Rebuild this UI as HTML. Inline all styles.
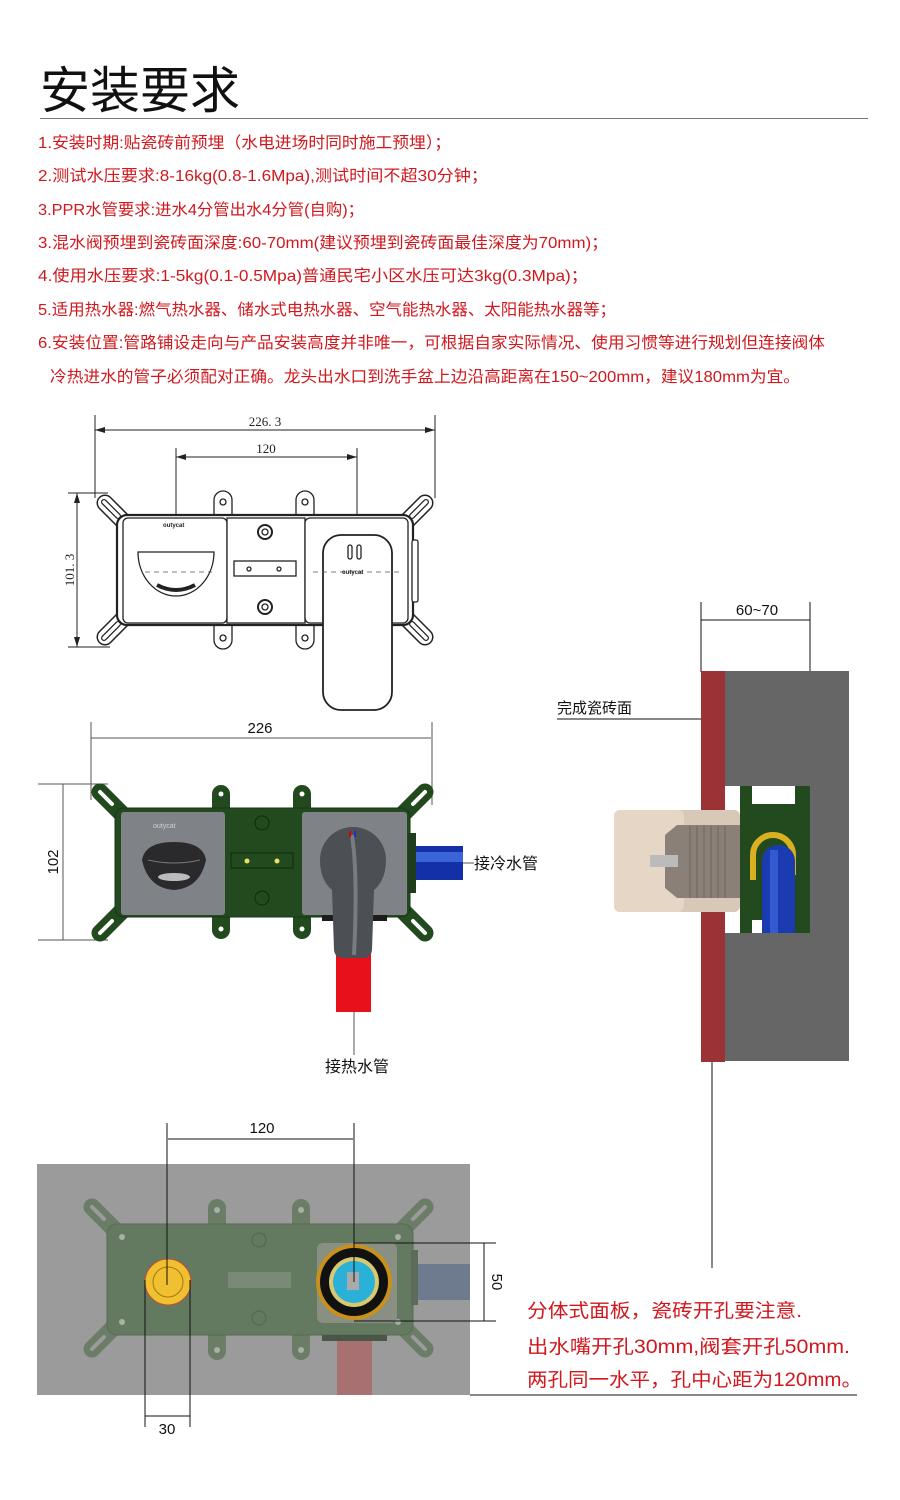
<!DOCTYPE html>
<html><head><meta charset="utf-8"><style>
html,body{margin:0;padding:0;background:#fff;}
svg{display:block;}
text{font-family:"Liberation Sans","Noto Sans CJK SC",sans-serif;}
.r{fill:#d0181e;font-size:16px;}
.s{font-family:"Liberation Serif","Noto Serif CJK SC",serif;font-size:13px;fill:#222;}
</style></head><body>
<svg width="900" height="1500" viewBox="0 0 900 1500" xmlns="http://www.w3.org/2000/svg">
<rect width="900" height="1500" fill="#fff"/>
<text x="40" y="108" font-size="50" fill="#111" textLength="200" lengthAdjust="spacingAndGlyphs">安装要求</text>
<line x1="40" y1="118.5" x2="868" y2="118.5" stroke="#777" stroke-width="1"/>
<g class="r">
<text x="38" y="148" textLength="413" lengthAdjust="spacingAndGlyphs">1.安装时期:贴瓷砖前预埋（水电进场时同时施工预埋）；</text>
<text x="38" y="181" textLength="450" lengthAdjust="spacingAndGlyphs">2.测试水压要求:8-16kg(0.8-1.6Mpa),测试时间不超30分钟；</text>
<text x="38" y="215" textLength="326" lengthAdjust="spacingAndGlyphs">3.PPR水管要求:进水4分管出水4分管(自购)；</text>
<text x="38" y="248" textLength="570" lengthAdjust="spacingAndGlyphs">3.混水阀预埋到瓷砖面深度:60-70mm(建议预埋到瓷砖面最佳深度为70mm)；</text>
<text x="38" y="281" textLength="550" lengthAdjust="spacingAndGlyphs">4.使用水压要求:1-5kg(0.1-0.5Mpa)普通民宅小区水压可达3kg(0.3Mpa)；</text>
<text x="38" y="315" textLength="578" lengthAdjust="spacingAndGlyphs">5.适用热水器:燃气热水器、储水式电热水器、空气能热水器、太阳能热水器等；</text>
<text x="38" y="348" textLength="787" lengthAdjust="spacingAndGlyphs">6.安装位置:管路铺设走向与产品安装高度并非唯一，可根据自家实际情况、使用习惯等进行规划但连接阀体</text>
<text x="50" y="382" textLength="750" lengthAdjust="spacingAndGlyphs">冷热进水的管子必须配对正确。龙头出水口到洗手盆上边沿高距离在150~200mm，建议180mm为宜。</text>
</g>

<g stroke="#222" stroke-width="1" fill="none">
<line x1="95" y1="415" x2="95" y2="498"/><line x1="435" y1="415" x2="435" y2="498"/>
<line x1="95" y1="430" x2="435" y2="430"/>
<line x1="176" y1="448" x2="176" y2="560"/><line x1="357" y1="448" x2="357" y2="615"/>
<line x1="176" y1="457" x2="357" y2="457"/>
<line x1="77" y1="493" x2="77" y2="647"/>
<line x1="68" y1="493" x2="108" y2="493"/><line x1="68" y1="647" x2="110" y2="647"/>
</g>
<g fill="#222"><path d="M95 430 l10 -3 v6z"/><path d="M435 430 l-10 -3 v6z"/><path d="M176 457 l10 -3 v6z"/><path d="M357 457 l-10 -3 v6z"/><path d="M77 493 l-3 10 h6z"/><path d="M77 647 l-3 -10 h6z"/></g>
<text class="s" x="265" y="426" text-anchor="middle">226. 3</text>
<text class="s" x="266" y="453" text-anchor="middle">120</text>
<text class="s" transform="translate(74,570) rotate(-90)" text-anchor="middle">101. 3</text>
<g stroke-linecap="round">
<g stroke="#222" stroke-width="17"><line x1="105" y1="503" x2="128" y2="526"/><line x1="425" y1="503" x2="402" y2="526"/><line x1="105" y1="637" x2="128" y2="614"/><line x1="425" y1="637" x2="402" y2="614"/></g>
<g stroke="#fff" stroke-width="14"><line x1="105" y1="503" x2="128" y2="526"/><line x1="425" y1="503" x2="402" y2="526"/><line x1="105" y1="637" x2="128" y2="614"/><line x1="425" y1="637" x2="402" y2="614"/></g>
<g stroke="#222" stroke-width="6"><line x1="104" y1="502" x2="118" y2="516"/><line x1="426" y1="502" x2="412" y2="516"/><line x1="104" y1="638" x2="118" y2="624"/><line x1="426" y1="638" x2="412" y2="624"/></g>
<g stroke="#fff" stroke-width="3.5"><line x1="104" y1="502" x2="118" y2="516"/><line x1="426" y1="502" x2="412" y2="516"/><line x1="104" y1="638" x2="118" y2="624"/><line x1="426" y1="638" x2="412" y2="624"/></g>
</g>
<g stroke="#222" stroke-width="1.3" fill="#fff">
<path d="M214 518 v-18 a9 9 0 0 1 18 0 v18"/><path d="M296 518 v-18 a9 9 0 0 1 18 0 v18"/>
<path d="M214 622 v18 a9 9 0 0 0 18 0 v-18"/><path d="M296 622 v18 a9 9 0 0 0 18 0 v-18"/>
<circle cx="223" cy="502" r="3"/><circle cx="305" cy="502" r="3"/><circle cx="223" cy="638" r="3"/><circle cx="305" cy="638" r="3"/>
<rect x="117" y="515" width="296" height="110" rx="10" stroke-width="2.2"/>
<rect x="412" y="540" width="6" height="62" rx="2"/>
<rect x="123" y="518" width="104" height="105" rx="5"/>
<rect x="227" y="518" width="78" height="105"/>
<rect x="305" y="518" width="103" height="105" rx="5"/>
<circle cx="265" cy="532" r="7" stroke-width="2"/><circle cx="265" cy="532" r="3"/>
<circle cx="265" cy="607" r="7" stroke-width="2"/><circle cx="265" cy="607" r="3"/>
<rect x="234" y="561" width="62" height="15"/><circle cx="249" cy="569" r="2"/><circle cx="279" cy="569" r="2"/>
<path d="M138 552 h76 a38 44 0 0 1 -76 0z"/>
<path d="M157 585 q19 10 38 0" stroke-width="4"/>
<rect x="323" y="535" width="69" height="175" rx="18" stroke-width="1.8"/>
<rect x="348" y="545" width="4" height="14" rx="2"/><rect x="357" y="545" width="4" height="14" rx="2"/>
</g>
<g stroke="#555" stroke-dasharray="5 4" stroke-width="0.8"><line x1="145" y1="572" x2="212" y2="572"/><line x1="313" y1="572" x2="400" y2="572"/></g>
<text x="163" y="527" font-size="6" font-weight="bold" fill="#222">outycat</text>
<text x="342" y="574" font-size="6" font-weight="bold" fill="#222">outycat</text>

<g stroke="#555" stroke-width="1" fill="none">
<line x1="91" y1="722" x2="91" y2="800"/><line x1="432" y1="722" x2="432" y2="805"/>
<line x1="91" y1="738" x2="431" y2="738"/>
<line x1="63" y1="784" x2="63" y2="940"/>
<line x1="38" y1="784" x2="108" y2="784"/><line x1="38" y1="940" x2="108" y2="940"/>
<line x1="463" y1="863" x2="474" y2="863"/>
<line x1="354" y1="1010" x2="354" y2="1055"/>
</g>
<text x="260" y="733" font-size="15" text-anchor="middle" fill="#111">226</text>
<text transform="translate(58,862) rotate(-90)" font-size="15" text-anchor="middle" fill="#111">102</text>
<text x="474" y="869" font-size="16" fill="#111">接冷水管</text>
<text x="325" y="1072" font-size="16" fill="#111">接热水管</text>
<rect x="414" y="846" width="49" height="34" fill="#1430a8"/>
<rect x="414" y="852" width="49" height="10" fill="#3a64d8"/>
<rect x="336" y="930" width="35" height="82" fill="#e8101a"/>
<g stroke-linecap="round" stroke="#234a1f">
<g stroke-width="17"><line x1="100" y1="792" x2="126" y2="818"/><line x1="425" y1="792" x2="399" y2="818"/><line x1="100" y1="933" x2="126" y2="907"/><line x1="425" y1="933" x2="399" y2="907"/></g>
</g>
<g stroke-linecap="round" stroke="#fff" stroke-width="4"><line x1="100" y1="792" x2="112" y2="804"/><line x1="425" y1="792" x2="413" y2="804"/><line x1="100" y1="933" x2="112" y2="921"/><line x1="425" y1="933" x2="413" y2="921"/></g>
<g fill="#234a1f">
<path d="M212 812 v-18 a9 9 0 0 1 18 0 v18z"/><path d="M293 812 v-18 a9 9 0 0 1 18 0 v18z"/>
<path d="M212 912 v18 a9 9 0 0 0 18 0 v-18z"/><path d="M293 912 v18 a9 9 0 0 0 18 0 v-18z"/>
<rect x="115" y="808" width="295" height="109" rx="9" stroke="#17351a" stroke-width="1"/>
<rect x="408" y="833" width="8" height="60" fill="#1f3d1d"/>
<rect x="322" y="915" width="65" height="6" fill="#1c1c1c"/>
</g>
<g fill="#fff"><circle cx="221" cy="794" r="2.5"/><circle cx="302" cy="794" r="2.5"/><circle cx="221" cy="929" r="2.5"/><circle cx="302" cy="929" r="2.5"/></g>
<rect x="121" y="812" width="104" height="103" rx="3" fill="#7f8387"/>
<rect x="302" y="812" width="105" height="103" rx="3" fill="#7f8387"/>
<g fill="none" stroke="#102810"><circle cx="262" cy="823" r="7"/><circle cx="262" cy="898" r="7"/><rect x="231" y="853" width="62" height="15"/></g>
<circle cx="247" cy="861" r="2.5" fill="#e8e060"/><circle cx="277" cy="861" r="2.5" fill="#e8e060"/>
<text x="153" y="828" font-size="7" fill="#cfd2d4">outycat</text>
<path d="M142 860 q3 -18 32 -18 q29 0 32 18 q-6 28 -32 30 q-26 -2 -32 -30z" fill="#2a2a2c"/>
<path d="M148 860 q26 6 52 0" stroke="#777" fill="none"/>
<ellipse cx="174" cy="877" rx="16" ry="4" fill="#bbb"/>
<path d="M320 860 a33 33 0 0 1 66 0 q0 20 -12 30 l-2 60 q-1 8 -9 8 h-20 q-8 0 -9 -8 l-2 -60 q-12 -10 -12 -30z" fill="#4c4f53"/>
<path d="M352 835 q6 40 2 120" stroke="#8a9096" stroke-width="4" fill="none" opacity=".7"/>
<rect x="349" y="831" width="2" height="6" fill="#d00"/><rect x="354" y="831" width="2" height="6" fill="#2030c0"/>

<g stroke="#111" stroke-width="1" fill="none">
<line x1="701" y1="602" x2="701" y2="672"/><line x1="810" y1="602" x2="810" y2="786"/>
<line x1="701" y1="620" x2="810" y2="620"/>
<line x1="557" y1="719" x2="701" y2="719"/>
<line x1="712" y1="1062" x2="712" y2="1268"/>
</g>
<text x="757" y="615" font-size="15" text-anchor="middle" fill="#111">60~70</text>
<text x="557" y="713" font-size="15" fill="#111">完成瓷砖面</text>
<rect x="725" y="671" width="124" height="390" fill="#666"/>
<rect x="701" y="671" width="24" height="391" fill="#9b3236"/>
<rect x="725" y="786" width="85" height="147" fill="#fff"/>
<rect x="701" y="826" width="24" height="73" fill="#fff"/>
<rect x="740" y="786" width="70" height="147" fill="#234a1f"/>
<rect x="752" y="786" width="43" height="18" fill="#fff"/>
<rect x="752" y="920" width="10" height="13" fill="#fff"/>
<rect x="614" y="810" width="126" height="102" rx="6" fill="#d8c8b8"/>
<rect x="614" y="810" width="70" height="102" rx="6" fill="#e6d6c6"/>
<path d="M665 835 l12 -10 h63 v73 h-63 l-12 -10z" fill="#8a8078"/>
<rect x="650" y="855" width="28" height="12" fill="#bbb"/>
<g stroke="#6d655e" stroke-width="1"><line x1="690" y1="826" x2="690" y2="898"/><line x1="697" y1="826" x2="697" y2="898"/><line x1="704" y1="826" x2="704" y2="898"/><line x1="711" y1="826" x2="711" y2="898"/><line x1="718" y1="826" x2="718" y2="898"/><line x1="725" y1="826" x2="725" y2="898"/></g>
<path d="M753 880 v-25 a20 20 0 0 1 40 0 v20" fill="none" stroke="#d8b020" stroke-width="6"/>
<rect x="762" y="845" width="33" height="88" rx="16" fill="#1a3cb0"/>
<rect x="762" y="880" width="33" height="53" fill="#1a3cb0"/>
<rect x="770" y="850" width="8" height="83" fill="#3f66e0" opacity=".7"/>

<rect x="37" y="1164" width="433" height="231" fill="#9b9b9b"/>
<rect x="413" y="1264" width="57" height="36" fill="#6e7a8e"/>
<rect x="337" y="1335" width="35" height="60" fill="#a87070"/>
<g stroke-linecap="round" stroke="#6b7d67" stroke-width="17"><line x1="92" y1="1207" x2="118" y2="1233"/><line x1="425" y1="1207" x2="399" y2="1233"/><line x1="92" y1="1349" x2="118" y2="1323"/><line x1="425" y1="1349" x2="399" y2="1323"/></g>
<g stroke-linecap="round" stroke="#9b9b9b" stroke-width="4"><line x1="92" y1="1207" x2="104" y2="1219"/><line x1="425" y1="1207" x2="413" y2="1219"/><line x1="92" y1="1349" x2="104" y2="1337"/><line x1="425" y1="1349" x2="413" y2="1337"/></g>
<g fill="#6b7d67">
<path d="M208 1226 v-18 a9 9 0 0 1 18 0 v18z"/><path d="M292 1226 v-18 a9 9 0 0 1 18 0 v18z"/>
<path d="M208 1333 v18 a9 9 0 0 0 18 0 v-18z"/><path d="M292 1333 v18 a9 9 0 0 0 18 0 v-18z"/>
<rect x="107" y="1224" width="306" height="111" rx="10" fill="#647a60" stroke="#556a52"/>
<rect x="322" y="1335" width="65" height="6" fill="#4a5648"/>
<rect x="411" y="1250" width="7" height="55" fill="#5b6d58"/>
</g>
<g fill="#a8b0a6"><circle cx="217" cy="1210" r="3"/><circle cx="301" cy="1210" r="3"/><circle cx="217" cy="1350" r="3"/><circle cx="301" cy="1350" r="3"/><circle cx="122" cy="1237" r="3"/><circle cx="398" cy="1237" r="3"/><circle cx="122" cy="1322" r="3"/><circle cx="398" cy="1322" r="3"/></g>
<g fill="none" stroke="#52644f"><circle cx="259" cy="1240" r="7"/><circle cx="259" cy="1318" r="7"/></g>
<rect x="228" y="1272" width="63" height="16" fill="#7a8a78"/>
<rect x="317" y="1243" width="80" height="80" rx="6" fill="#8a8f84"/>
<circle cx="168" cy="1282" r="23" fill="#f0c030" stroke="#c05030" stroke-width="1"/>
<circle cx="168" cy="1282" r="15" fill="none" stroke="#a07818"/>
<circle cx="354" cy="1282" r="38" fill="#c8901c"/>
<circle cx="354" cy="1282" r="34" fill="#111"/>
<circle cx="354" cy="1282" r="25" fill="#d8c870"/>
<circle cx="354" cy="1282" r="21" fill="#2bb0d8"/>
<rect x="347" y="1272" width="12" height="18" fill="#aaa"/>
<g stroke="#111" stroke-width="1" fill="none">
<line x1="167" y1="1123" x2="167" y2="1285"/><line x1="354" y1="1123" x2="354" y2="1282"/>
<line x1="168" y1="1139" x2="353" y2="1139"/>
<line x1="354" y1="1243" x2="496" y2="1243"/><line x1="354" y1="1321" x2="496" y2="1321"/>
<line x1="484" y1="1243" x2="484" y2="1321"/>
<line x1="145" y1="1280" x2="145" y2="1427"/><line x1="190" y1="1280" x2="190" y2="1427"/>
<line x1="145" y1="1416" x2="190" y2="1416"/>
<line x1="470" y1="1395" x2="857" y2="1395"/>
</g>
<text x="262" y="1133" font-size="15" text-anchor="middle" fill="#111">120</text>
<text transform="translate(492,1282) rotate(90)" font-size="15" text-anchor="middle" fill="#111">50</text>
<text x="167" y="1434" font-size="15" text-anchor="middle" fill="#111">30</text>
<g fill="#d0181e" font-size="19">
<text x="527" y="1317" textLength="275" lengthAdjust="spacingAndGlyphs">分体式面板，瓷砖开孔要注意.</text>
<text x="527" y="1353" textLength="323" lengthAdjust="spacingAndGlyphs">出水嘴开孔30mm,阀套开孔50mm.</text>
<text x="527" y="1386" textLength="335" lengthAdjust="spacingAndGlyphs">两孔同一水平，孔中心距为120mm。</text>
</g>
</svg>
</body></html>
